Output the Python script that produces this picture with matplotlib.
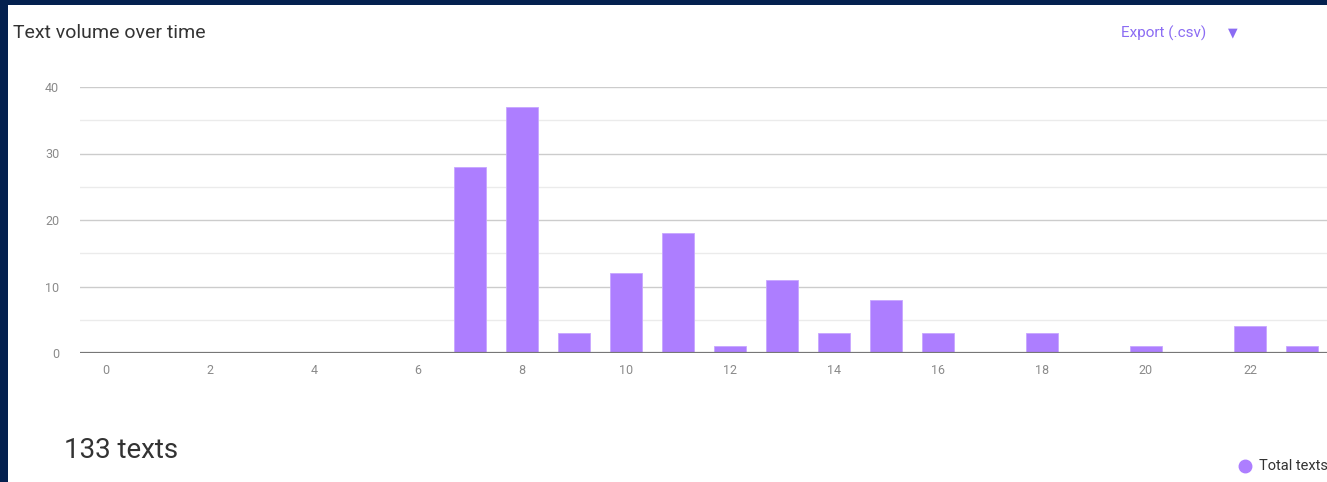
import matplotlib.pyplot as plt
from matplotlib.patches import Rectangle
from matplotlib.ticker import MultipleLocator

plt.rcParams['font.family'] = ['Roboto', 'DejaVu Sans']

hours = list(range(24))
texts = [0, 0, 0, 0, 0, 0, 0, 28, 37, 3, 12, 18, 1, 11, 3, 8, 3, 0, 3, 0, 1, 0, 4, 1]
total = sum(texts)

W, H = 1327, 482
fig = plt.figure(figsize=(W / 100, H / 100), dpi=100)
fig.patch.set_facecolor('#04214f')

# white card
fig.add_artist(Rectangle((8 / W, 0), 1 - 8 / W, (H - 5) / H,
                         transform=fig.transFigure, facecolor='white',
                         edgecolor='none', zorder=0))

ax = fig.add_axes([80 / W, 129 / H, 1248 / W, 266 / H])
ax.set_facecolor('none')
ax.bar(hours, texts, width=0.62, color='#ad7eff', edgecolor='#c7a6ff',
       linewidth=0.6, zorder=3)

ax.set_xlim(-0.5, 23.5)
ax.set_ylim(0, 40)
ax.xaxis.set_major_locator(MultipleLocator(2))
ax.yaxis.set_major_locator(MultipleLocator(10))
ax.yaxis.set_minor_locator(MultipleLocator(5))
ax.grid(axis='y', which='major', color='#cccccc', linewidth=1, zorder=1)
ax.grid(axis='y', which='minor', color='#ebebeb', linewidth=1, zorder=1)
ax.axhline(0, color='#777777', linewidth=1.6, zorder=4)
ax.set_axisbelow(True)
for s in ax.spines.values():
    s.set_visible(False)
ax.tick_params(axis='both', which='both', length=0, labelsize=9,
               labelcolor='#8a8a8a')
ax.tick_params(axis='y', pad=15)
ax.tick_params(axis='x', pad=8)

fig.text(13 / W, 1 - 33 / H, 'Text volume over time', fontsize=14,
         color='#333333', va='center', ha='left')
fig.text(1121 / W, 1 - 33 / H, 'Export (.csv)', fontsize=11,
         color='#8b6cf3', va='center', ha='left')
fig.text(1233 / W, 1 - 33 / H, '\u25BC', fontsize=9, color='#8b6cf3',
         va='center', ha='center')
fig.text(64 / W, 1 - 450 / H, f'{total} texts', fontsize=20,
         color='#333333', va='center', ha='left')

# legend entry
fig.lines.append(plt.Line2D([1245 / W], [1 - 466 / H], marker='o',
                            markersize=9, color='#ad7eff', linestyle='none',
                            transform=fig.transFigure))
fig.text(1259 / W, 1 - 466 / H, 'Total texts', fontsize=10.5,
         color='#333333', va='center', ha='left')

fig.savefig('out.png', dpi=100, facecolor=fig.get_facecolor())
